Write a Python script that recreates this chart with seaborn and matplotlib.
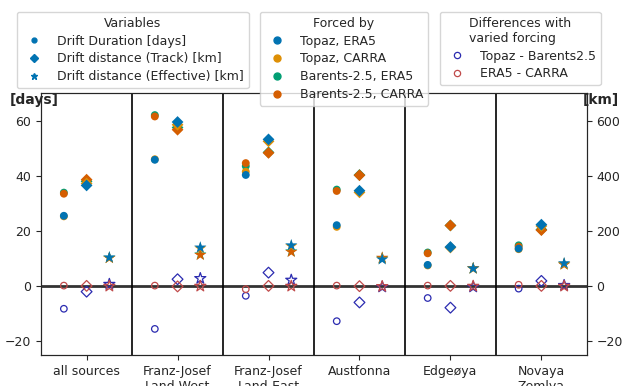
import numpy as np
import pandas as pd
import matplotlib
matplotlib.use("Agg")
import matplotlib.pyplot as plt
from matplotlib.lines import Line2D
import seaborn as sns

## Data
regions = ["all sources", "Franz-Josef\nLand-West", "Franz-Josef\nLand-East",
           "Austfonna", "Edgeøya", "Novaya\nZemlya"]
forcings = ["Topaz, ERA5", "Topaz, CARRA", "Barents-2.5, ERA5", "Barents-2.5, CARRA"]

# drift duration [days]
days_topaz_era5 = [25.5, 45.8, 40.3, 22.1, 7.7, 13.6]
days_topaz_carra = [25.3, 46.0, 41.5, 21.5, 7.5, 13.4]
days_barents_era5 = [33.9, 62.0, 43.5, 35.0, 12.2, 14.8]
days_barents_carra = [33.5, 61.5, 44.6, 34.5, 11.9, 14.3]

# drift distance along track [km]
track_topaz_era5 = [365, 595, 532, 346, 142, 223]
track_topaz_carra = [372, 585, 525, 340, 140, 218]
track_barents_era5 = [380, 575, 485, 403, 220, 205]
track_barents_carra = [386, 567, 483, 402, 220, 203]

# effective drift distance [km]
eff_topaz_era5 = [104, 140, 148, 97, 64, 83]
eff_topaz_carra = [102, 137, 145, 99, 63, 81]
eff_barents_era5 = [103, 115, 126, 102, 65, 79]
eff_barents_carra = [102, 113, 124, 103, 65, 78]

# differences
diff_labels = ["Topaz - Barents2.5", "ERA5 - CARRA"]
diff_model_days = [-8.2, -15.5, -3.5, -12.7, -4.3, -0.9]
diff_model_track = [-20, 25, 49, -59, -78, 19]
diff_model_eff = [7, 28, 22, -3, -3, 3]
diff_atm_days = [0.2, 0.2, -1.1, 0.2, 0.2, 0.5]
diff_atm_track = [1, -1, 1, 0, 1, 1]
diff_atm_eff = [0, 0, 0, -1, 0, 0]

## Setup
sns.set_style("ticks")
plt.rcParams["font.family"] = ["DejaVu Sans"]
plt.rcParams["font.size"] = 9

pal = dict(zip(forcings, sns.color_palette("colorblind")[:4]))
diff_cols = {"Topaz - Barents2.5": "#2b2bb0", "ERA5 - CARRA": "#c04a4a"}

values = {
    "Topaz, ERA5": (days_topaz_era5, track_topaz_era5, eff_topaz_era5),
    "Topaz, CARRA": (days_topaz_carra, track_topaz_carra, eff_topaz_carra),
    "Barents-2.5, ERA5": (days_barents_era5, track_barents_era5, eff_barents_era5),
    "Barents-2.5, CARRA": (days_barents_carra, track_barents_carra, eff_barents_carra),
}
diffs = {
    "Topaz - Barents2.5": (diff_model_days, diff_model_track, diff_model_eff),
    "ERA5 - CARRA": (diff_atm_days, diff_atm_track, diff_atm_eff),
}
var_names = ["days", "track", "eff"]
offsets = {"days": -0.25, "track": 0.0, "eff": 0.25}
markers = {"days": "o", "track": "D", "eff": "*"}
msize = {"days": 32, "track": 36, "eff": 85}
msize_open = {"days": 22, "track": 30, "eff": 70}

# long form table, in drawing order
rows = []
draw_order = ["Barents-2.5, ERA5", "Barents-2.5, CARRA", "Topaz, CARRA", "Topaz, ERA5"]
for f in draw_order:
    for v, vals in zip(var_names, values[f]):
        for i, val in enumerate(vals):
            rows.append({"forcing": f, "var": v, "pos": i + offsets[v], "value": val})
df = pd.DataFrame(rows)

drows = []
for d in diff_labels:
    for v, vals in zip(var_names, diffs[d]):
        for i, val in enumerate(vals):
            drows.append({"diff": d, "var": v, "pos": i + offsets[v], "value": val})
ddf = pd.DataFrame(drows)

## Plot
fig = plt.figure(figsize=(6.23, 3.86), dpi=100)
ax = fig.add_axes([0.066, 0.080, 0.876, 0.679])
ax2 = ax.twinx()

ax.axhline(0, color="#333333", lw=2, zorder=0)
for xs in np.arange(0.5, len(regions) - 1, 1):
    ax.axvline(xs, color="black", lw=1.2, zorder=0)

for v in var_names:
    tgt = ax if v == "days" else ax2
    sub = df[df["var"] == v]
    sns.scatterplot(data=sub, x="pos", y="value", hue="forcing", palette=pal,
                    marker=markers[v], s=msize[v], linewidth=0, legend=False, ax=tgt)
for d in diff_labels:
    for v in var_names:
        tgt = ax if v == "days" else ax2
        sub = ddf[(ddf["diff"] == d) & (ddf["var"] == v)]
        sns.scatterplot(data=sub, x="pos", y="value", marker=markers[v], s=msize_open[v],
                        facecolor="none", edgecolor=diff_cols[d], linewidth=0.9,
                        legend=False, ax=tgt)

ax.set_xlim(-0.5, len(regions) - 0.5)
ax.set_ylim(-25, 70)
ax2.set_ylim(-250, 700)
ax.set_yticks([-20, 0, 20, 40, 60])
ax2.set_yticks([-200, 0, 200, 400, 600])
ax.set_xticks(range(len(regions)))
ax.set_xticklabels(regions)
ax.set_xlabel("")
ax.set_ylabel("")
ax2.set_ylabel("")
ax.tick_params(labelsize=9)
ax2.tick_params(labelsize=9)

ax.text(-0.012, 0.973, "[days]", transform=ax.transAxes, ha="center", va="center",
        fontsize=10, fontweight="bold")
ax.text(1.026, 0.973, "[km]", transform=ax.transAxes, ha="center", va="center",
        fontsize=10, fontweight="bold")

## Legends
blue = pal["Topaz, ERA5"]
h1 = [Line2D([], [], ls="none", marker="o", ms=3.5, color=blue, mec=blue),
      Line2D([], [], ls="none", marker="D", ms=4, color=blue, mec=blue),
      Line2D([], [], ls="none", marker="*", ms=5, color=blue, mec=blue)]
l1 = ["Drift Duration [days]", "Drift distance (Track) [km]", "Drift distance (Effective) [km]"]
h2 = [Line2D([], [], ls="none", marker="o", ms=5, color=pal[f], mec=pal[f]) for f in forcings]
h3 = [Line2D([], [], ls="none", marker="o", ms=4.5, mfc="none", mec=diff_cols[d], mew=0.9)
      for d in diff_labels]

leg_kw = dict(loc="upper left", borderaxespad=0, fontsize=9, title_fontsize=9,
              labelspacing=0.38)
fig.legend(h1, l1, title="Variables", bbox_to_anchor=(0.027, 0.969), **leg_kw)
fig.legend(h2, forcings, title="Forced by", bbox_to_anchor=(0.417, 0.969), **leg_kw)
fig.legend(h3, diff_labels, title="Differences with\nvaried forcing",
           bbox_to_anchor=(0.706, 0.969), **leg_kw)

fig.savefig("out.png", dpi=100)
